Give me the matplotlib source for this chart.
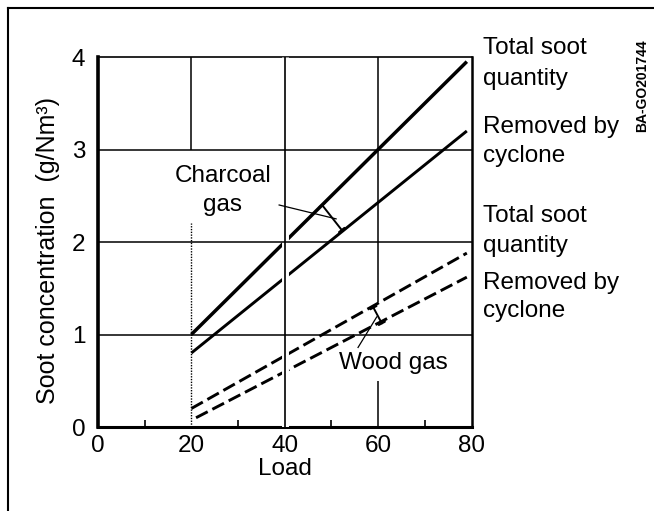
import matplotlib
matplotlib.use("Agg")
import matplotlib.pyplot as plt
import matplotlib.patheffects as pe
from matplotlib.lines import Line2D

plt.rcParams['font.family'] = ['Liberation Sans', 'DejaVu Sans']

# Soot concentration (g/Nm3) against engine load
charcoal_load = [20, 79]
charcoal_total = [1.0, 3.95]
charcoal_removed = [0.8, 3.2]

wood_total_load = [20, 79]
wood_total = [0.2, 1.88]
wood_removed_load = [21, 79]
wood_removed = [0.1, 1.62]

x_ticks = [0, 20, 40, 60, 80]
y_ticks = [0, 1, 2, 3, 4]
x_minor = [10, 30, 50, 70]

right_labels = ["Total soot", "quantity", "Removed by", "cyclone",
                "Total soot", "quantity", "Removed by", "cyclone"]
right_baselines = [54, 85, 133, 162, 222, 252, 289, 317]

W, H = 654, 511
FS = 17.5

fig = plt.figure(figsize=(W / 100, H / 100), dpi=100)
ax = fig.add_axes([98 / W, 1 - 427 / H, (471.5 - 98) / W, (427 - 57) / H])
ax.set_xlim(0, 80)
ax.set_ylim(0, 4)

# grid
for y in (1, 2, 3):
    ax.axhline(y, color='black', lw=1.1, zorder=4)
ax.vlines(20, 3, 4, color='black', lw=1.1, zorder=4)
ax.vlines(20, 0, 2.2, color='black', lw=1.0, ls=(0, (1, 1)), zorder=4)
ax.vlines(40, 0, 4, color='black', lw=1.2, zorder=3,
          path_effects=[pe.Stroke(linewidth=5, foreground='white'), pe.Normal()])
ax.vlines(60, 1.35, 4, color='black', lw=1.1, zorder=4)
ax.vlines(60, 0, 0.5, color='black', lw=1.1, zorder=4)

# curves
ax.plot(charcoal_load, charcoal_total, color='black', lw=2.5, solid_capstyle='butt', zorder=2)
ax.plot(charcoal_load, charcoal_removed, color='black', lw=2.1, solid_capstyle='butt', zorder=2)
ax.plot(wood_total_load, wood_total, color='black', lw=2.1, dashes=(4.5, 1.8), zorder=2)
ax.plot(wood_removed_load, wood_removed, color='black', lw=2.1, dashes=(4.5, 1.8), zorder=2)

# brackets and leaders
ax.annotate('', xy=(52.2, 2.13), xytext=(48, 2.4),
            arrowprops=dict(arrowstyle='|-|,widthA=0.25,widthB=0.25', lw=1.4, color='black',
                            shrinkA=0, shrinkB=0), zorder=5)
ax.plot([38.8, 51.0], [2.40, 2.25], color='black', lw=0.9, zorder=5)
ax.annotate('', xy=(60.8, 1.12), xytext=(59.0, 1.29),
            arrowprops=dict(arrowstyle='|-|,widthA=0.25,widthB=0.25', lw=1.4, color='black',
                            shrinkA=0, shrinkB=0), zorder=5)
ax.plot([55.7, 59.7], [0.86, 1.19], color='black', lw=0.9, zorder=5)

ax.text(26.8, 2.71, "Charcoal", fontsize=FS, ha='center', va='center', zorder=6,
        bbox=dict(facecolor='white', edgecolor='none', pad=1))
ax.text(26.6, 2.40, "gas", fontsize=FS, ha='center', va='center', zorder=6)
ax.text(63.2, 0.69, "Wood gas", fontsize=FS, ha='center', va='center', zorder=6)

# axes styling
ax.set_xticks(x_ticks)
ax.set_yticks(y_ticks)
ax.set_xticklabels([str(v) for v in x_ticks], fontsize=FS)
ax.set_yticklabels([str(v) for v in y_ticks], fontsize=FS)
ax.set_xticks(x_minor, minor=True)
ax.tick_params(which='major', length=0)
ax.tick_params(axis='x', which='major', pad=6)
ax.tick_params(axis='y', which='major', pad=9)
ax.tick_params(axis='x', which='minor', direction='in', length=5, width=1.2)
ax.spines['left'].set_linewidth(2.6)
ax.spines['bottom'].set_linewidth(2.2)
ax.spines['right'].set_linewidth(1.8)
ax.spines['top'].set_linewidth(1.2)

ax.set_xlabel("Load", fontsize=FS)
ax.xaxis.set_label_coords(0.5, -0.085)
ax.set_ylabel("Soot concentration  (g/Nm³)", fontsize=18)
ax.yaxis.set_label_coords(-0.102, 0.478)

for s, b in zip(right_labels, right_baselines):
    fig.text(483 / W, 1 - b / H, s, fontsize=FS, ha='left', va='baseline')

fig.text(641.7 / W, 1 - 86 / H, "BA-GO201744", fontsize=10, fontweight='bold',
         rotation=90, ha='center', va='center')

# outer frame
fig.add_artist(Line2D([8 / W, 8 / W], [0, 1 - 8 / H], color='black', lw=1.5))
fig.add_artist(Line2D([8 / W, 1], [1 - 8 / H, 1 - 8 / H], color='black', lw=1.5))

fig.savefig("out.png", dpi=100)
